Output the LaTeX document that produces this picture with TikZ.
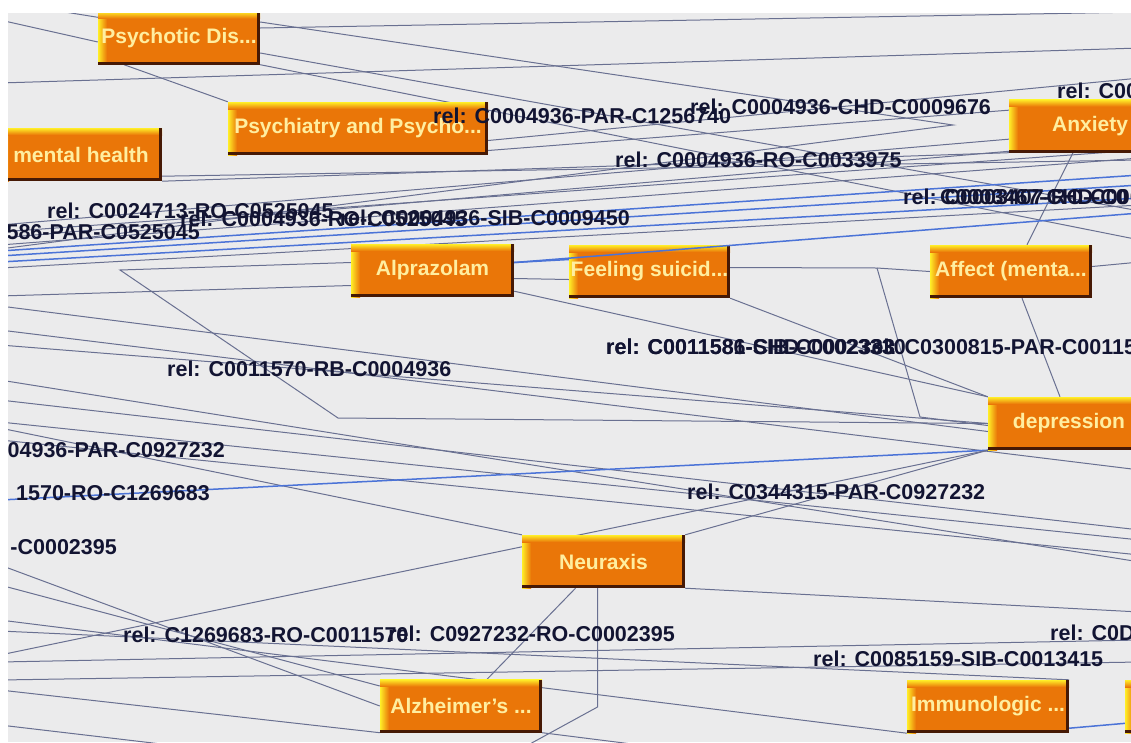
\documentclass[tikz,border=0pt]{standalone}
\usepackage{fontspec}
\setmainfont{Liberation Sans}
\usetikzlibrary{calc}
\definecolor{canvasgray}{RGB}{235,235,236}
\definecolor{boxorange}{RGB}{234,118,8}
\definecolor{boxyellow}{RGB}{255,238,40}
\definecolor{boxdark}{RGB}{70,25,5}
\definecolor{boxtext}{RGB}{255,238,160}
\definecolor{labelink}{RGB}{18,20,50}
\definecolor{edgegray}{RGB}{105,112,145}
\definecolor{edgeblue}{RGB}{75,115,215}
\pgfdeclarelayer{canvas}
\pgfdeclarelayer{edges}
\pgfsetlayers{canvas,edges,main}
\tikzset{
  concept/.style={inner sep=0pt, minimum height=53pt, text=boxtext,
    font=\bfseries\fontsize{21}{21}\selectfont, fill=boxorange,
    path picture={
      \coordinate (pa) at (path picture bounding box.north west);
      \coordinate (pb) at (path picture bounding box.south east);
      \shade[left color=boxyellow, right color=boxorange] (pa) rectangle ($(pa|-pb)+(9pt,0)$);
      \shade[top color=boxyellow, bottom color=boxorange] (pa) rectangle ($(pb|-pa)+(0,-7pt)$);
      \fill[boxdark] ($(pa|-pb)+(0,3pt)$) rectangle (pb);
      \fill[boxdark] ($(pb|-pa)+(-3pt,0)$) rectangle (pb);
    }},
  rel/.style={inner sep=0pt, text=labelink, font=\bfseries\fontsize{21.5}{21.5}\selectfont},
  edge/.style={draw=edgegray, line width=1pt},
  bedge/.style={draw=edgeblue, line width=1.5pt},
}
\begin{document}
\begin{tikzpicture}[x=1pt,y=-1pt]
\useasboundingbox (0,0) rectangle (1131,742);
\begin{pgfonlayer}{canvas}
  \fill[white] (0,0) rectangle (1131,742);
  \fill[canvasgray] (8,13) rectangle (1131,742);
\end{pgfonlayer}

% concept nodes
\begin{scope}
\clip (8,13) rectangle (1131,742);
\node[concept, minimum width=162pt] (psychotic) at (179,38) {Psychotic Dis...};
\node[concept, minimum width=260pt] (psychiatry) at (358,128.5) {Psychiatry and Psycho...};
\node[concept, minimum width=162pt] (mental) at (81,154.5) {mental health};
\node[concept, minimum width=162pt] (anxiety) at (1090,126) {Anxiety};
\node[concept, minimum width=163pt] (alprazolam) at (432.5,270.5) {Alprazolam};
\node[concept, minimum width=161pt] (feeling) at (649.5,271.5) {Feeling suicid...};
\node[concept, minimum width=162pt] (affect) at (1011,271.5) {Affect (menta...};
\node[concept, minimum width=162pt] (depression) at (1069,423.5) {depression};
\node[concept, minimum width=163pt] (neuraxis) at (603.5,561.5) {Neuraxis};
\node[concept, minimum width=162pt] (alzheimer) at (461,706) {Alzheimer's ...};
\node[concept, minimum width=162pt] (immuno) at (988,706.5) {Immunologic ...};
\node[concept, minimum width=162pt] (edgenode) at (1206,706.5) {};
\end{scope}

% free ends and bends of the connectors
\coordinate (l20) at (0,20);   \coordinate (t40) at (40,8);
\coordinate (l83) at (0,83);   \coordinate (l225) at (0,225);
\coordinate (l232) at (0,232); \coordinate (l238) at (0,238);
\coordinate (l245) at (0,245); \coordinate (l249) at (0,249);
\coordinate (l251) at (0,251); \coordinate (l256) at (0,256);
\coordinate (l262) at (0,262); \coordinate (l268) at (0,268);
\coordinate (l296) at (0,296); \coordinate (l306) at (0,306);
\coordinate (l330) at (0,330); \coordinate (l345) at (0,345);
\coordinate (l380) at (0,380); \coordinate (l400) at (0,400);
\coordinate (l422) at (0,422); \coordinate (l428) at (0,428);
\coordinate (l440) at (0,440); \coordinate (l500) at (0,500);
\coordinate (l565) at (0,565); \coordinate (l585) at (0,585);
\coordinate (l620) at (0,620); \coordinate (l631) at (0,631);
\coordinate (l655) at (0,655); \coordinate (l662) at (0,662);
\coordinate (l680) at (0,680); \coordinate (l690) at (0,690);
\coordinate (l725) at (0,725);
\coordinate (r12) at (1140,12);   \coordinate (r48) at (1140,48);
\coordinate (r78) at (1140,78);   \coordinate (r100) at (1140,100);
\coordinate (r128) at (1140,128); \coordinate (r140) at (1140,140);
\coordinate (r150) at (1140,150); \coordinate (r158) at (1140,158);
\coordinate (r160) at (1140,160); \coordinate (r175) at (1140,175);
\coordinate (r185) at (1140,185); \coordinate (r198) at (1140,198);
\coordinate (r205) at (1140,205); \coordinate (r211) at (1140,211);
\coordinate (r213) at (1140,213); \coordinate (r240) at (1140,240);
\coordinate (r262) at (1140,262); \coordinate (r470) at (1140,470);
\coordinate (r530) at (1140,530); \coordinate (r540) at (1140,540);
\coordinate (r555) at (1140,555); \coordinate (r562) at (1140,562);
\coordinate (r612) at (1140,612); \coordinate (r640) at (1140,640);
\coordinate (r662) at (1140,662); \coordinate (r722) at (1140,722);
\coordinate (k1) at (953,125);  \coordinate (k2) at (120,270);
\coordinate (k3) at (338,418);  \coordinate (k4) at (877,268);
\coordinate (k5) at (920,417);  \coordinate (k6) at (597.5,707);
\coordinate (b1) at (528,745);  \coordinate (b3) at (170,745);
\coordinate (b5) at (640,745);

% connectors, behind the concept boxes
\begin{pgfonlayer}{edges}
\clip (8,13) rectangle (1131,742);
\draw[edge] (l20) -- ([yshift=-4pt]psychotic.west);
\draw[edge] (t40) -- ([yshift=-6pt]psychotic.north west);
\draw[edge] ([yshift=10pt]psychotic.east) -- (r12);
\draw[edge] ([yshift=16pt]psychotic.east) -- (k1) -- (l249);
\draw[edge] (l83) -- (r48);
\draw[edge] ([yshift=-15pt]psychotic.east) -- (r211);
\draw[edge] (psychotic.south east) -- (r240);
\draw[edge] ([xshift=-55pt]psychotic.south) -- (psychiatry.north west);
\draw[edge] (l225) -- (r128);
\draw[edge] (l232) -- (r150);
\draw[edge] (l238) -- (r140);
\draw[edge] (l245) -- (r158);
\draw[bedge] (l251) -- (r175);
\draw[bedge] (l256) -- (r185);
\draw[bedge] (l262) -- (r198);
\draw[edge] (l268) -- (r205);
\draw[edge] (mental.south east) -- (anxiety.south west);
\draw[edge] ([yshift=5pt]mental.south east) -- (r160);
\draw[edge] ([yshift=-12pt]psychiatry.east) -- (r78);
\draw[edge] ([yshift=-22pt]psychiatry.east) -- (r100);
\draw[edge] ([yshift=8pt]alprazolam.west) -- (k2) -- (k3) -- (depression.west);
\draw[bedge] ([yshift=8pt]alprazolam.east) -- ([yshift=12pt]feeling.west);
\draw[edge] ([yshift=-8pt]alprazolam.east) -- ([yshift=-8pt]feeling.west);
\draw[edge] ([yshift=6pt]alprazolam.south east) -- (depression.north west);
\draw[edge] (feeling.south east) -- (depression.north west);
\draw[edge] ([yshift=4pt]feeling.east) -- (k4) -- (k5) -- ([yshift=-2pt]depression.west);
\draw[edge] (k4) -- (affect.west);
\draw[edge] ([xshift=-17pt]anxiety.south) -- ([xshift=16pt]affect.north);
\draw[edge] ([xshift=11pt]affect.south) -- ([xshift=-9pt]depression.north);
\draw[edge] ([yshift=5pt]affect.east) -- (r262);
\draw[edge] (l296) -- ([yshift=-15pt]alprazolam.west);
\draw[edge] (l306) -- ([yshift=-8pt]depression.west);
\draw[edge] (l330) -- (r470);
\draw[edge] (l345) -- (depression.west);
\draw[edge] (l380) -- (r562);
\draw[edge] (l422) -- (r540);
\draw[edge] (l400) -- (r530);
\draw[edge] (l440) -- (r555);
\draw[edge] (l428) -- (neuraxis.north west);
\draw[bedge] (l500) -- (depression.south west);
\draw[edge] (l655) -- (depression.south west);
\draw[edge] (neuraxis.north east) -- (depression.south west);
\draw[edge] (neuraxis.south east) -- (r612);
\draw[edge] ([xshift=-28pt]neuraxis.south) -- ([xshift=26pt]alzheimer.north);
\draw[edge] ([xshift=-6pt]neuraxis.south) -- (k6) -- (b1);
\draw[edge] (l565) -- (alzheimer.west);
\draw[edge] (l585) -- ([yshift=20pt]alzheimer.west);
\draw[edge] (l620) -- (immuno.south west);
\draw[edge] (l631) -- (immuno.north east);
\draw[edge] (l662) -- (r640);
\draw[edge] (l680) -- (r662);
\draw[edge] (l690) -- (alzheimer.south west);
\draw[edge] (l725) -- (b3);
\draw[edge] (alzheimer.south east) -- (b5);
\draw[bedge] ([yshift=5pt]immuno.south east) -- (r722);
\end{pgfonlayer}

% relation labels, on top
\begin{scope}
\clip (8,13) rectangle (1131,742);
\draw[bedge] ([yshift=8pt]alprazolam.east) -- (r213);
\node[rel, anchor=west] (r1) at (433,116) {rel: C0004936-PAR-C1256740};
\node[rel, anchor=west] (r2) at (690,107) {rel: C0004936-CHD-C0009676};
\node[rel, anchor=west] (r3) at (615,160) {rel: C0004936-RO-C0033975};
\node[rel, anchor=west] (r4) at (1057,91) {rel: C00};
\node[rel, anchor=west] (r5) at (903,197) {rel: C0003407-RO-C0004936};
\node[rel, anchor=west] (r5b) at (940,197) {C0003467-CHD-C0};
\node[rel, anchor=west] (r6) at (47,211) {rel: C0024713-RO-C0525045};
\node[rel, anchor=west] (r7) at (180,219) {rel: C0004936-RO-C0525045};
\node[rel, anchor=east] (r8) at (630,218) {rel: C0004936-SIB-C0009450};
\node[rel, anchor=east] (r9) at (200,232) {586-PAR-C0525045};
\node[rel, anchor=west] (r10) at (167,369) {rel: C0011570-RB-C0004936};
\node[rel, anchor=west] (r11) at (606,347) {rel: C0011581-SIB-C0002333};
\node[rel, anchor=west] (r11b) at (606,347) {rel: C0011586-CHD-C0023330};
\node[rel, anchor=west] (r11c) at (863,347) {rel: C0300815-PAR-C0011581};
\node[rel, anchor=east] (r12) at (225,450) {04936-PAR-C0927232};
\node[rel, anchor=east] (r13) at (210,493) {1570-RO-C1269683};
\node[rel, anchor=east] (r14) at (117,547) {-C0002395};
\node[rel, anchor=west] (r15) at (687,492) {rel: C0344315-PAR-C0927232};
\node[rel, anchor=west] (r16) at (123,635) {rel: C1269683-RO-C0011570};
\node[rel, anchor=east] (r17) at (675,634) {rel: C0927232-RO-C0002395};
\node[rel, anchor=west] (r18) at (813,659) {rel: C0085159-SIB-C0013415};
\node[rel, anchor=west] (r19) at (1050,633) {rel: C0D};
\end{scope}
\end{tikzpicture}
\end{document}
